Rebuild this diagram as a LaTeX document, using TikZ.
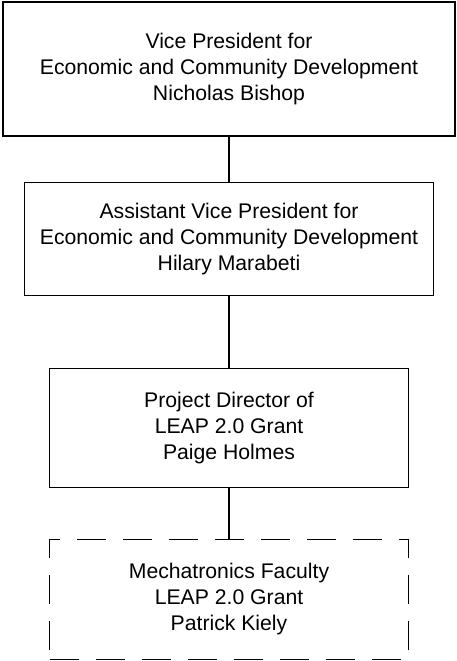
\documentclass[tikz,border=0pt]{standalone}
\usepackage{fontspec}
\setmainfont{Liberation Sans}
\usetikzlibrary{positioning}

\begin{document}
\begin{tikzpicture}[
  obox/.style={rectangle, draw, line width=1.1pt, align=center,
               inner sep=0pt, font=\fontsize{21.2}{26}\selectfont},
  vacant/.style={obox, dash pattern=on 29pt off 17pt},
  link/.style={line width=1.1pt},
]
  \useasboundingbox (0,0) rectangle (456pt,-661pt);

  \node[obox, minimum width=452pt, minimum height=134pt] (vp) at (229pt,-69pt)
    {Vice President for\\Economic and Community Development\\Nicholas Bishop};
  \node[obox, minimum width=409pt, minimum height=113pt, below=45pt of vp] (avp)
    {Assistant Vice President for\\Economic and Community Development\\Hilary Marabeti};
  \node[obox, minimum width=359pt, minimum height=119pt, below=72pt of avp] (pd)
    {Project Director of\\LEAP 2.0 Grant\\Paige Holmes};

  % dashed = faculty position
  \node[vacant, minimum width=359pt, minimum height=120pt, below=51pt of pd] (fac)
    {Mechatronics Faculty\\LEAP 2.0 Grant\\Patrick Kiely};

  \draw[link] (vp) -- (avp);
  \draw[link] (avp) -- (pd);
  \draw[link] (pd) -- (fac);
\end{tikzpicture}
\end{document}
